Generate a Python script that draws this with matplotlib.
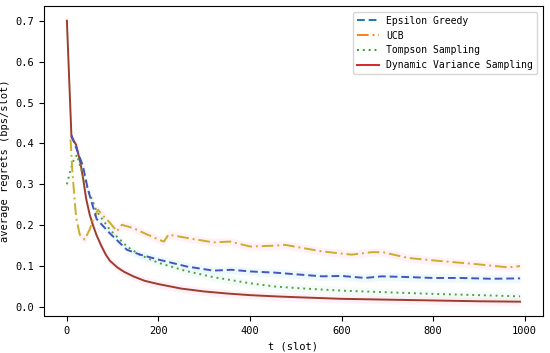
import matplotlib
matplotlib.use("Agg")
import matplotlib.pyplot as plt
from matplotlib.lines import Line2D

plt.rcParams['font.family'] = ['DejaVu Sans Mono']

labels = ["Epsilon Greedy", "UCB", "Tompson Sampling", "Dynamic Variance Sampling"]

eg_t = [10, 20, 35, 46, 65, 94, 131, 160, 200, 262, 320, 360, 400, 455, 500, 557, 600, 651, 688, 750, 800, 860, 928, 990]
eg_v = [0.42, 0.39, 0.345, 0.287, 0.215, 0.18, 0.14, 0.128, 0.116, 0.099, 0.089, 0.091, 0.087, 0.084, 0.080, 0.075, 0.076, 0.071, 0.075, 0.073, 0.071, 0.071, 0.069, 0.070]

ucb_t = [8, 12, 20, 28, 39, 50, 57, 68, 80, 94, 109, 120, 145, 170, 200, 212, 222, 262, 320, 356, 400, 455, 476, 557, 622, 665, 690, 745, 800, 892, 964, 990]
ucb_v = [0.41, 0.33, 0.22, 0.177, 0.165, 0.19, 0.214, 0.238, 0.222, 0.206, 0.185, 0.201, 0.193, 0.180, 0.165, 0.160, 0.177, 0.169, 0.158, 0.160, 0.148, 0.150, 0.152, 0.136, 0.128, 0.134, 0.134, 0.120, 0.114, 0.105, 0.097, 0.100]

ts_t = [0, 8, 15, 22, 30, 45, 65, 94, 131, 160, 200, 260, 320, 400, 455, 520, 600, 700, 800, 900, 990]
ts_v = [0.30, 0.336, 0.36, 0.372, 0.34, 0.29, 0.234, 0.189, 0.148, 0.127, 0.108, 0.088, 0.073, 0.058, 0.050, 0.045, 0.040, 0.036, 0.032, 0.029, 0.026]

dvs_t = [0, 10, 20, 30, 36, 42, 50, 57, 65, 75, 85, 94, 110, 125, 145, 170, 200, 250, 300, 350, 400, 455, 500, 600, 700, 800, 900, 990]
dvs_v = [0.70, 0.415, 0.397, 0.35, 0.31, 0.265, 0.225, 0.200, 0.175, 0.150, 0.128, 0.113, 0.097, 0.086, 0.075, 0.064, 0.056, 0.045, 0.038, 0.033, 0.029, 0.026, 0.024, 0.020, 0.018, 0.016, 0.014, 0.013]

line_colors = ["#4a52c0", "#c8b02a", "#5c9c40", "#9c3e2c"]
legend_colors = ["#1f77b4", "#ff7f0e", "#2ca02c", "#d62728"]
styles = [(0, (4, 2)), (0, (6, 2, 1, 2)), (0, (1, 2)), "-"]
band_colors = ["#d2f4fa", "#ffdcec", "#e4f8f0", "#ffdcec"]

series = [(eg_t, eg_v), (ucb_t, ucb_v), (ts_t, ts_v), (dvs_t, dvs_v)]

fig = plt.figure(figsize=(5.5, 3.53), dpi=100)
ax = fig.add_axes([44/550, 1 - 316/353, (543-44)/550, (316-6)/353])

for (t, v), c, ls, bc in zip(series, line_colors, styles, band_colors):
    lo = [x - 0.01 for x in v]
    hi = [x + 0.01 for x in v]
    ax.fill_between(t, lo, hi, color=bc, alpha=0.4, linewidth=0)
for (t, v), c, ls in list(zip(series, line_colors, styles))[::-1]:
    ax.plot(t, v, color=c, linestyle=ls, linewidth=1.4)

handles = [Line2D([0], [0], color=c, linestyle=ls, linewidth=1.4) for c, ls in zip(legend_colors, styles)]
ax.legend(handles, labels, loc="upper right", fontsize=7, handlelength=2.2, framealpha=0.8,
          borderaxespad=0.6)

ax.set_xticks([0, 200, 400, 600, 800, 1000])
ax.set_yticks([0.0, 0.1, 0.2, 0.3, 0.4, 0.5, 0.6, 0.7])
ax.tick_params(labelsize=7.5)
ax.set_xlabel("t (slot)", fontsize=7.5)
ax.set_ylabel("average regrets (bps/slot)", fontsize=7.5)
ax.set_xlim(-50, 1040)
ax.set_ylim(-0.022, 0.736)

fig.savefig("out.png", dpi=100)
